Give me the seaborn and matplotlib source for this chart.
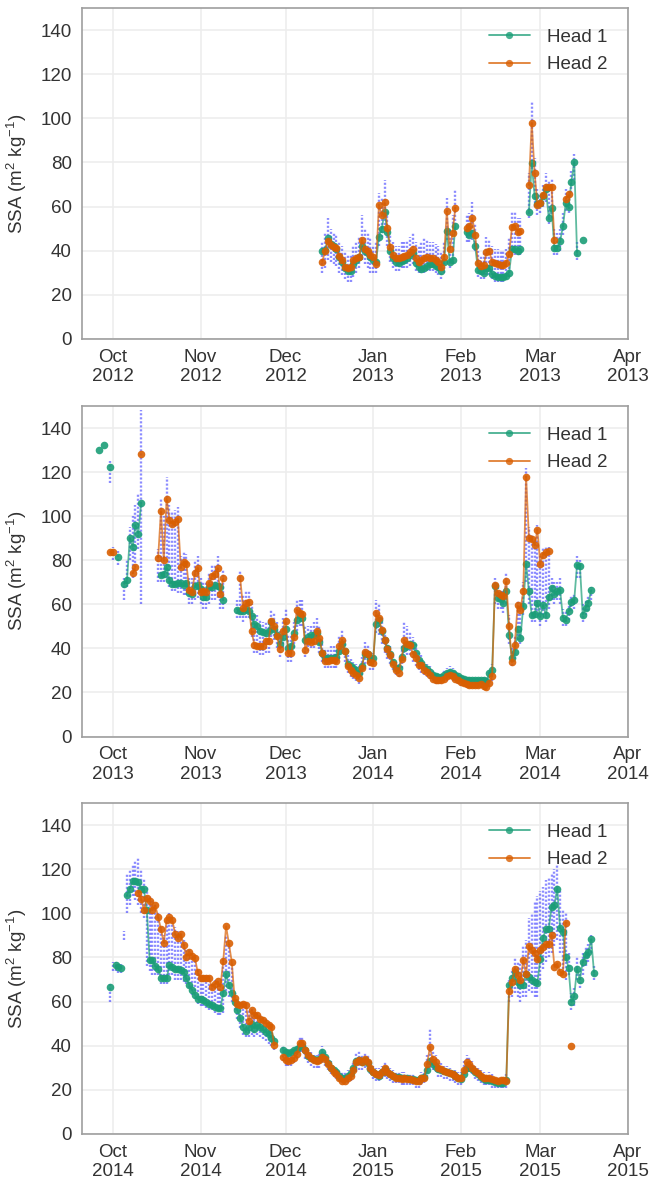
import numpy as np
import pandas as pd
import matplotlib
matplotlib.use("Agg")
import matplotlib.pyplot as plt
import matplotlib.dates as mdates
from matplotlib.lines import Line2D
import seaborn as sns

nan = np.nan

# ---------------- Panel 1 : 2012-2013 (daily from 2012-12-14) ----------------
p1_start = "2012-12-14"
p1_head1 = ([40, 40.5, 45.6, 43, 42, 41, 37, 35, 32, 31, 31, 34, 36, 37, 42, 40, 39, 37]
            + [36, 35, 46.4, 50, 57.4, 48.7, 40, 36.5, 35, 34.5, 35.5, 36, 36.5, 38, 39, 34.5, 32.5, 31.5, 32, 33,
               34, 34, 33, 32.5, 31, 35, 49, 35, 35.8, 51.3, nan]
            + [nan, nan, 48.5, 47, 48, 42, 31.4, 30.6, 30, 32, 32, 29.5, 28.5, 28, 28, 28, 28.5, 30, 40.7, 40.7,
               40, 40.7, nan, nan, 57.7, 79.6, 65, 61]
            + [61.5, 65, 68, 55, 59.3, 41.2, 41.2, 44.2, 51, 61.5, 59.7, 71.3, 80.4, 39, nan, 45])
p1_head2 = ([35, 40, 44.6, 42.6, 41.8, 41.4, 37.6, 35.8, 32.7, 32.4, 32.7, 35.8, 36.5, 37.3, 44.9, 41, 40, 38]
            + [37, 34.2, 60.6, 56, 62, 50.2, 41.5, 38, 36.5, 36.5, 37.3, 37.8, 38, 39.5, 40.6, 36.8, 35, 36, 36.9,
               37.3, 36.5, 36.5, 35.8, 35, 32.7, 37.3, 57.9, 40.6, 48, 59.5, nan]
            + [nan, nan, 50.2, 51, 55, 47, 34.4, 33, 33.6, 39.2, 39.7, 35.1, 34.4, 34, 33.6, 33.6, 34.4, 38.5,
               50.7, 51.3, 48.7, 49, nan, nan, 70, 98, 75.4, 60.8]
            + [61.5, 65.3, 69, 69, 69, 45, nan, nan, nan, 63.3, 65.6, nan, nan, nan, nan, nan])
p1_raw_lo = ([30, 32, 36, 35, 34, 33, 30, 29, 27, 26, 26, 28, 30, 32, 36, 34, 32, 30]
             + [30, 30, 42, 46, 50, 42, 35, 32, 31, 31, 32, 32, 32, 33, 34, 31, 30, 30, 30, 31, 31, 31, 30, 29, 27,
                30, 45, 32, 34, 48, nan]
             + [nan, nan, 44, 44, 45, 40, 28, 27, 27, 29, 29, 27, 26, 26, 26, 26, 27, 28, 38, 38, 38, 38, nan, nan,
                55, 75, 60, 56]
             + [57, 60, 62, 52, 55, 38, 38, 40, 47, 58, 57, 66, 72, 36, nan, nan])
p1_raw_hi = ([44, 48, 55, 50, 48, 47, 44, 42, 40, 38, 38, 42, 44, 46, 56, 50, 48, 46]
             + [42, 44, 66, 64, 72, 58, 47, 44, 42, 42, 44, 44, 45, 46, 48, 44, 42, 44, 46, 45, 44, 44, 43, 42, 40,
                44, 64, 50, 56, 68, nan]
             + [nan, nan, 56, 57, 62, 52, 40, 38, 40, 46, 45, 42, 41, 41, 40, 40, 41, 46, 58, 58, 55, 55, nan, nan,
                75, 108, 82, 68]
             + [66, 70, 75, 72, 73, 50, 48, 50, 57, 68, 68, 76, 84, 44, nan, nan])

# ---------------- Panel 2 : 2013-2014 (daily from 2013-09-26) ----------------
p2_start = "2013-09-26"
p2_head1 = ([130, nan, 132.2, nan, 122.2]
            + [nan, nan, 81.3, nan, 69.2, 71, 90.2, 86.1, 95.9, 92.1, 106, nan, nan, nan, nan, nan, nan, 73.3,
               73.7, 77, 71, 69.2, 69.2, 69.5, 69.5, 68.8, 69.5, 65, 64.7, 68.3, 68.8]
            + [67, 63.5, 63.5, 67.9, 67.9, 68.8, 68.3, 67.9, 62, nan, nan, nan, nan, 57.5, 57, 56.8, 58, 57, 54.5,
               51, 50, 48, 47.5, 47, 48, 52, 49, 46, 42, 45]
            + [49, 40, 41, 47, 53, 55, 54, 44, 45, 46, 46, 47, 43, 38, 35.5, 35.5, 35.5, 35.5, 36, 39, 42, 39, 33,
               32, 31, 30, 29, 32, 37.5, 37.5, 35]
            + [35.8, 51, 52.7, 48, 44, 40, 37.5, 34, 31, 31, 36, 40, 41, 42, 41.7, 38, 34.5, 33.5, 31.5, 30.5,
               29.5, 28, 27.5, 27, 27, 27.8, 29, 29.5, 29, 28, 27.3]
            + [26.5, 26, 25.7, 25.5, 25.5, 25.5, 25.7, 25.5, 25.5, 25, 28.8, 30.3, 68.2, 62.9, 62.4, 60.6, 65.9,
               46.2, 35.6, 38.3, 48.8, 44.7, 59.1, 78.5, 65.9, 55, 55.8, 60.6]
            + [54.5, 59.8, 55, 63.3, 67.4, 64.8, 65.9, 66.7, 54, 53, 56.8, 60.9, 61.8, 78, 77.6, 55.3, 58.3, 60.6,
               66.4])
p2_head2 = ([nan, nan, nan, nan, 83.8]
            + [83.8, nan, nan, nan, nan, nan, nan, 74, 77, nan, 128, nan, nan, nan, nan, nan, 81.1, 102.3, 80,
               107.9, 98.4, 96.6, 97.4, 98.9, 77, 79.3, 78.3, 66.5, 65.8, 74.3, 76.7]
            + [65.8, 66.2, 65.8, 69.5, 72.8, 73.7, 76.3, 64.7, 71.8, nan, nan, nan, nan, nan, 71.8, 58.3, 60.5,
               61.2, 47.7, 41.7, 40.9, 40.9, 40.9, 43.2, 43.2, 52.2, 50, 45.4, 39.7, 48.1]
            + [52.5, 37.9, 37.9, 45, 57.5, 56, 55.7, 39.4, 43.5, 43, 43.5, 47.7, 44.7, 38, 34.1, 34.1, 34.8, 34.8,
               34.1, 40.9, 43.6, 38.6, 31.9, 30.4, 28.9, 27.7, 26.7, 31.2, 38.5, 37.5, 33.8]
            + [33.5, 56.1, 53.8, 48.2, 43.6, 39.5, 36.8, 33, 30, 28.8, 35.3, 43.6, 42.1, 41.4, 37.6, 35.6, 32.6,
               32.3, 30, 29.2, 27.7, 26.2, 25.8, 25.5, 25.5, 26.2, 27.4, 28, 27.4, 26.2, 25.5]
            + [24.7, 24.2, 23.9, 23.6, 23.5, 23.5, 23.5, 23.9, 23, 22.4, 24.5, 27.3, 68.6, 65.2, 64.4, 63.6, 70.5,
               50, 33.6, 41.7, 59.5, 57.6, 65.9, 117.9, 90.2, 89.7, 86.7, 93.6]
            + [78.5, 82.6, 83.6, 84] + [nan] * 15)
p2_raw_lo = ([nan, nan, nan, nan, 115]
             + [80, nan, 78, nan, 62, 68, 80, 72, 75, 85, 60, nan, nan, nan, nan, nan, 70, 70, 70, 72, 68, 66, 66,
                65, 65, 64, 64, 60, 60, 62, 63]
             + [60, 58, 58, 60, 62, 62, 63, 58, 58, nan, nan, nan, nan, 54, 54, 52, 54, 54, 45, 38, 38, 37, 37, 38,
                38, 45, 44, 40, 36, 40]
             + [44, 34, 34, 40, 48, 50, 50, 36, 39, 40, 40, 42, 38, 34, 31, 31, 31, 31, 31, 35, 38, 34, 29, 27, 26,
                25, 24, 28, 33, 33, 30]
             + [30, 47, 46, 42, 38, 35, 33, 30, 28, 27, 31, 38, 37, 37, 34, 32, 30, 29, 28, 27, 26, 25, 24, 24, 24,
                25, 25, 26, 25, 25, 24]
             + [23, 23, 22, 22, 22, 22, 22, 22, 21, 21, 23, 25, 60, 58, 58, 56, 60, 42, 32, 35, 44, 42, 55, 70, 60,
                52, 52, 55]
             + [50, 55, 52, 58, 62, 60, 62, 60, 50, 50, 53, 57, 58, 72, 72, 52, 55, 57, 62])
p2_raw_hi = ([nan, nan, nan, nan, 125]
             + [86, nan, 84, nan, 72, 80, 95, 100, 105, 110, 148, nan, nan, nan, nan, nan, 85, 108, 100, 118, 105,
                102, 103, 104, 82, 84, 83, 72, 72, 80, 82]
             + [72, 70, 70, 74, 78, 78, 82, 70, 76, nan, nan, nan, nan, 62, 75, 64, 66, 66, 60, 56, 55, 53, 52, 52,
                53, 58, 56, 52, 48, 54]
             + [58, 46, 46, 52, 62, 62, 62, 50, 50, 50, 52, 54, 50, 44, 40, 40, 41, 41, 40, 46, 49, 44, 37, 35, 34,
                33, 32, 36, 43, 42, 38]
             + [38, 62, 60, 54, 48, 44, 41, 37, 34, 33, 42, 52, 50, 48, 45, 42, 38, 37, 34, 33, 32, 30, 29, 29, 29,
                30, 31, 32, 31, 30, 29]
             + [28, 27, 27, 27, 27, 27, 27, 27, 27, 26, 30, 33, 72, 68, 67, 66, 74, 55, 40, 46, 62, 60, 70, 122, 95,
                92, 90, 96]
             + [82, 86, 86, 86, 72, 70, 70, 72, 58, 57, 60, 64, 65, 82, 80, 60, 62, 64, 68])

# ---------------- Panel 3 : 2014-2015 (daily from 2014-09-30) ----------------
p3_start = "2014-09-30"
p3_head1 = ([66.7]
            + [nan, 76.5, 75.7, 75.3, nan, 108.2, 111.2, 114.6, 114.6, 114.3, 111.2, 111.0, 101.4, 78.8, 78.8,
               76.2, 75.0, 70.8, 70.5, 70.5, 76.5, 75.7, 75.0, 74.7, 74.2, 73.5, 70.5, 67.4, 65.2, 62.9, 61.4]
            + [61.4, 60.9, 59.9, 59.1, 58.4, 57.6, 57.2, 57.0, 64.1, 72.3, 67.4, 64.1, 59.9, 56.1, 52.6, 48.5,
               46.6, 48.5, 50.0, 47.8, 49.6, 48.5, 47.5, 46.3, 45.1, 43.6, 42.1, nan, nan, 38.1]
            + [37.3, 36.5, 37.3, 38, 38.5, 40, 40, 38, 35.5, 34.5, 34, 33.5, 34, 37.3, 35, 32, 30, 29, 28, 26.5,
               25.5, 25.5, 26.5, 27.5, 30, 33, 33.5, 32.5, 33.5, 32, 29.5]
            + [28, 27, 26.5, 28, 29.5, 28, 27, 26.5, 26, 25.8, 25.3, 25.5, 25.3, 25, 24.8, 24.5, 24.5, 25.5, 26,
               29, 33, 31.5, 30.5, 29.5, 29, 28.5, 28, 27.5, 27, 26.5, 25.5]
            + [25, 27, 30, 30.5, 29.5, 28, 27, 26, 25, 24.5, 24.5, 24, 23.5, 23, 23, 23.2, 24.4, 67.7, 70.5, 73.2,
               68.9, 67.7, 67.4, 72.7, 71.2, 69.7, 68.9, 68.6]
            + [79.2, 88.9, 92.8, 93, 102.9, 103.7, 111.2, 93.4, 91.6, 80.3, 75.3, 59.6, 62.6, 75, 70, 78, 81, 82.5,
               88.3, 73])
p3_head2 = ([nan]
            + [nan] * 9
            + [109.4, 106.7, 101.4, 107.0, 105.5, 101.4, 103.6, 98.4, 92.8, 86.7, 96.9, 98.4, 96.9, 90.8, 88.9,
               90.8, 85.8, 80.3, 82.5, 80.7, 79.8, 73.2]
            + [70.5, 70.5, 70.8, 70.5, 66.7, 68, 69.2, 66.7, 78.3, 94.1, 86.4, 78.1, 61.7, 58.7, 58.4, 59.1, 58.4,
               51.1, 56.1, 53.8, 54.1, 52.3, 51.5, 50.4, 49.5, 48.7, 40.2, nan, nan, 35.1]
            + [33.6, 33.1, 33.6, 34.3, 36.1, 41.1, 41.1, 38.1, 35.8, 34.3, 33.6, 33.1, 33.6, 35.1, 33.9, 31.6,
               29.8, 28.3, 27.1, 25.5, 24, 24, 25.6, 26.5, 29, 32.5, 33.6, 32.8, 34, 32.5, 29.8]
            + [28.3, 27.1, 26.8, 28.3, 29.8, 28.3, 27.1, 26.5, 25.6, 25.6, 25, 25.3, 25, 25, 24.5, 24, 24, 25.3,
               25.5, 31.6, 39.2, 34, 32.8, 30.1, 29.5, 28.6, 28, 27.5, 27.1, 26.5, 25.6]
            + [25.3, 29, 32.5, 31.6, 30.1, 28.6, 27.5, 26.5, 25.6, 25.3, 25.5, 25, 24.5, 24, 24.4, 24.4, 24, 65,
               68.9, 75, 72, 69.7, 78.8, 72.3, 85.3, 83.3, 81.8, 79.2]
            + [83.3, 84.8, 85.9, 86.3, 90.4, 75.7, 77.2, 73.5, 72.7, 95.8, nan, 40, nan, nan, nan, nan, nan, nan,
               nan, nan])
p3_raw_lo = ([60]
             + [74, 74, 73, 73, 88, 100, 104, 108, 106, 104, 100, 98, 76, 74, 72, 72, 72, 68, 68, 68, 72, 72, 70,
                70, 70, 69, 68, 66, 63, 61, 59]
             + [58, 58, 57, 56, 56, 55, 54, 54, 55, 65, 62, 60, 56, 52, 48, 45, 44, 44, 45, 44, 45, 44, 43, 42, 41,
                40, 38, nan, nan, 33]
             + [31, 31, 31, 32, 34, 37, 37, 34, 32, 31, 30, 30, 30, 32, 31, 29, 27, 26, 25, 24, 23, 23, 23, 24, 26,
                28, 29, 29, 30, 29, 27]
             + [25, 24, 24, 25, 26, 25, 24, 23, 23, 23, 22, 22, 22, 22, 22, 21, 21, 22, 23, 26, 30, 29, 28, 26, 26,
                25, 25, 24, 24, 23, 22]
             + [22, 25, 28, 28, 27, 25, 24, 23, 22, 22, 22, 21, 21, 21, 21, 21, 21, 60, 62, 64, 62, 60, 62, 62, 65,
                64, 62, 62]
             + [70, 75, 78, 80, 82, 85, 88, 82, 75, 70, 72, 56, 58, 70, 66, 72, 76, 78, 82, 70])
p3_raw_hi = ([68]
             + [78, 78, 77, 77, 92, 118, 120, 122, 124, 125, 120, 116, 112, 108, 106, 104, 100, 94, 90, 97, 100,
                98, 94, 92, 92, 88, 84, 84, 82, 80, 75]
             + [72, 72, 72, 72, 68, 70, 70, 68, 80, 90, 86, 78, 64, 60, 60, 60, 60, 56, 57, 55, 55, 54, 53, 52, 51,
                50, 43, nan, nan, 40]
             + [38, 37, 38, 39, 40, 44, 44, 41, 38, 37, 36, 36, 37, 40, 38, 35, 33, 31, 30, 29, 28, 28, 29, 30, 33,
                37, 38, 36, 37, 36, 33]
             + [31, 30, 30, 31, 33, 31, 30, 29, 28, 28, 28, 28, 27, 27, 27, 26, 26, 28, 28, 36, 48, 38, 36, 33, 32,
                31, 31, 30, 29, 29, 28]
             + [28, 33, 36, 35, 33, 31, 30, 29, 28, 27, 28, 27, 26, 26, 26, 26, 27, 70, 75, 80, 78, 78, 85, 88, 98,
                100, 105, 108]
             + [110, 112, 115, 116, 118, 120, 122, 110, 102, 100, 82, 64, 66, 80, 74, 82, 85, 86, 90, 76])

x_limits = [("2012-09-20", "2013-04-01"), ("2013-09-20", "2014-04-01"), ("2014-09-20", "2015-04-01")]
y_ticks = [0, 20, 40, 60, 80, 100, 120, 140]
series_names = ["Head 1", "Head 2"]

panels = [
    (p1_start, p1_head1, p1_head2, p1_raw_lo, p1_raw_hi),
    (p2_start, p2_head1, p2_head2, p2_raw_lo, p2_raw_hi),
    (p3_start, p3_head1, p3_head2, p3_raw_lo, p3_raw_hi),
]

# ---------------- style ----------------
sns.set_theme(style="whitegrid")
plt.rcParams.update({
    "font.family": ["Liberation Sans", "DejaVu Sans"],
    "mathtext.default": "regular",
    "axes.edgecolor": "0.62",
    "axes.linewidth": 1.2,
    "grid.color": "0.93",
    "grid.linewidth": 1.2,
    "xtick.color": "0.2",
    "ytick.color": "0.2",
    "axes.labelcolor": "0.2",
    "text.color": "0.2",
})
c_h1 = "#1b9e77"
c_h2 = "#d95f02"
c_raw = "blue"

fig = plt.figure(figsize=(6.52, 11.89), dpi=100)
W, H = 652.0, 1189.0
boxes = [(8, 339), (406, 736.5), (803, 1134)]
left_px, right_px = 81.7, 628.0

for i, (start, h1, h2, lo, hi) in enumerate(panels):
    top, bot = boxes[i]
    ax = fig.add_axes([left_px / W, 1 - bot / H, (right_px - left_px) / W, (bot - top) / H])
    n = len(h1)
    dates = pd.date_range(start, periods=n, freq="D")

    raw = pd.DataFrame({"date": dates, "lo": lo, "hi": hi}).dropna()
    ax.vlines(raw["date"], raw["lo"], raw["hi"], color=c_raw, alpha=0.45, linewidth=1.7,
              linestyles=(0, (0.9, 0.8)), zorder=1)

    for vals, col, z in [(h1, c_h1, 3), (h2, c_h2, 4)]:
        df = pd.DataFrame({"date": dates, "ssa": vals})
        df["seg"] = df["ssa"].isna().cumsum()
        df = df.dropna()
        sns.lineplot(data=df, x="date", y="ssa", units="seg", estimator=None, color=col,
                     linewidth=1.3, alpha=0.7, ax=ax, legend=False, zorder=z)
        sns.scatterplot(data=df, x="date", y="ssa", color=col, s=30, linewidth=0, alpha=0.9,
                        ax=ax, legend=False, zorder=z + 0.5)

    ax.set_xlim(pd.Timestamp(x_limits[i][0]), pd.Timestamp(x_limits[i][1]))
    ax.set_ylim(0, 150)
    ax.set_yticks(y_ticks)
    ax.xaxis.set_major_locator(mdates.MonthLocator())
    ax.xaxis.set_major_formatter(mdates.DateFormatter("%b\n%Y"))
    ax.tick_params(axis="both", labelsize=13.5, length=0, pad=7)
    ax.set_xlabel("")
    ax.set_ylabel(r"SSA (m$^2$ kg$^{-1}$)", fontsize=13.5, labelpad=8)
    for sp in ax.spines.values():
        sp.set_color("0.62")
        sp.set_linewidth(1.2)
    ax.grid(True, color="0.93", linewidth=1.2)

    handles = [Line2D([0], [0], color=c_h1, marker="o", markersize=5.2, markeredgewidth=0, lw=1.3, alpha=0.8),
               Line2D([0], [0], color=c_h2, marker="o", markersize=5.2, markeredgewidth=0, lw=1.3, alpha=0.8)]
    ax.legend(handles, series_names, loc="upper right", frameon=False, fontsize=13.5,
              handlelength=2.2, borderaxespad=0.7, labelspacing=0.55, handletextpad=0.9)

fig.savefig("out.png", dpi=100)
